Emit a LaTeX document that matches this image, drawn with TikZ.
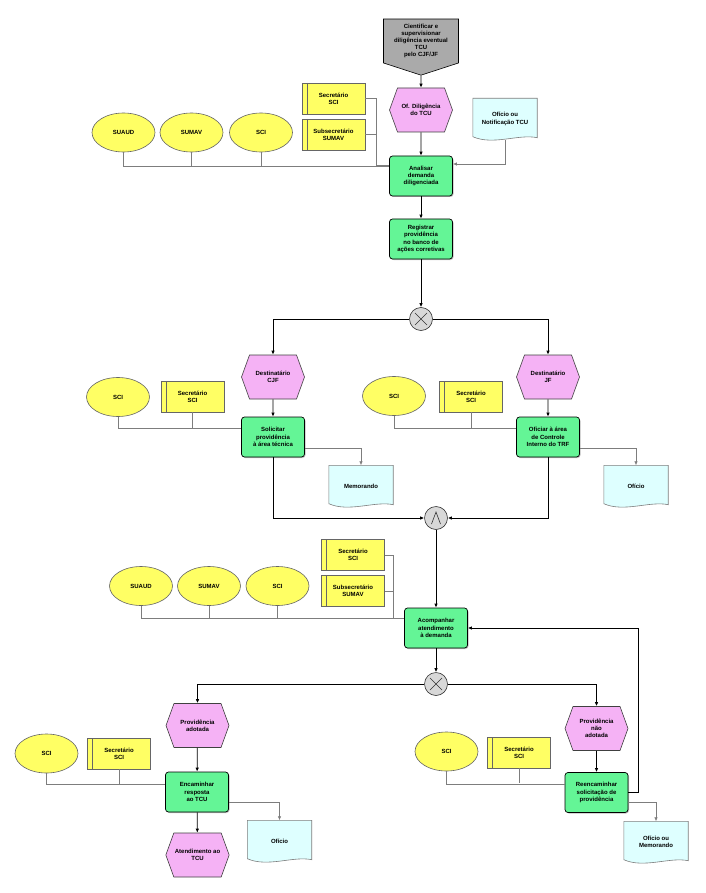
\documentclass[tikz,border=0pt]{standalone}
\usepackage{fontspec}
\setmainfont{Liberation Sans}
\usetikzlibrary{shapes.symbols,shapes.geometric,arrows.meta,calc,shadows}
\definecolor{funcg}{RGB}{100,245,150}
\definecolor{evpink}{RGB}{245,178,245}
\definecolor{orgy}{RGB}{255,255,100}
\definecolor{docc}{RGB}{222,255,255}
\definecolor{gatec}{RGB}{216,216,216}
\definecolor{startg}{RGB}{170,170,170}
\definecolor{lineg}{RGB}{125,125,125}
\newcommand\docnode[3]{%
  \path (#2) node[docbox] (#1) {};
  \filldraw[fill=docc,draw=lineg,line width=0.6pt] (#1.north west) -- (#1.north east) -- ($(#1.south east)+(0,-2)$)
     .. controls ($(#1.south)+(14,-6)$) and ($(#1.south)+(-12,6)$) .. ($(#1.south west)+(0,-3)$) -- cycle;
  \node[lbl] (#1t) at (#1) {#3};}
\begin{document}
\begin{tikzpicture}[x=1pt,y=-1pt,
  every node/.style={font=\fontsize{6}{7.2}\selectfont\bfseries, align=center, inner sep=1pt},
  lbl/.style={},
  func/.style={draw=black, fill=funcg, rounded corners=3pt, minimum width=63pt, minimum height=40pt, line width=0.7pt,
     drop shadow={shadow xshift=1pt, shadow yshift=-1pt, opacity=0.5}},
  evt/.style={signal, signal to=east and west, signal pointer angle=140, draw=black!75, fill=evpink,
     minimum width=63pt, minimum height=44pt, line width=0.6pt},
  startev/.style={signal, signal to=south, signal from=nowhere, signal pointer angle=144, draw=black, fill=startg,
     minimum width=75pt, minimum height=53pt, line width=0.6pt},
  org/.style={ellipse, draw=black!60, fill=orgy, minimum width=63pt, minimum height=39pt, line width=0.6pt},
  role/.style={rectangle, draw=black!60, fill=orgy, minimum width=63pt, minimum height=31pt, line width=0.6pt,
     path picture={\draw[black!60] ([xshift=5pt]path picture bounding box.north west) -- ([xshift=5pt]path picture bounding box.south west);}},
  docbox/.style={rectangle, minimum width=64pt, minimum height=41pt, draw=none},
  xorg/.style={circle, draw=black!80, fill=gatec, minimum size=23pt, inner sep=0pt, line width=0.6pt,
     path picture={\draw[line width=0.6pt] ($(path picture bounding box.center)+(-6,-6)$) -- ($(path picture bounding box.center)+(6,6)$)
        ($(path picture bounding box.center)+(-6,6)$) -- ($(path picture bounding box.center)+(6,-6)$);}},
  andg/.style={circle, draw=black!80, fill=gatec, minimum size=23pt, inner sep=0pt, line width=0.6pt,
     path picture={\draw[line width=0.6pt] ($(path picture bounding box.center)+(-4.5,6)$) -- ($(path picture bounding box.center)+(0,-6)$)
        -- ($(path picture bounding box.center)+(4.5,6)$);}},
  flow/.style={draw=black, line width=0.8pt, -{Latex[length=4pt,width=3.5pt]}},
  outl/.style={draw=lineg, line width=0.7pt, -{Latex[length=4pt,width=3.5pt]}},
  orgl/.style={draw=lineg, line width=0.7pt}
]
\useasboundingbox[fill=white] (0,0) rectangle (705,893);

% ---------- top block ----------
\node[startev] (start) at (421,41) {Cientificar e\\supervisionar\\diligência eventual\\TCU\\pelo CJF/JF};
\node[evt] (ev1) at (421,110) {Of. Diligência\\do TCU};
\node[func] (f1) at (421,176) {Analisar\\demanda\\diligenciada};
\docnode{doc1}{505,119}{Ofício ou\\Notificação TCU}
\node[role] (r1) at (333.5,98.5) {Secretário\\SCI};
\node[role] (r2) at (333.5,134.5) {Subsecretário\\SUMAV};
\node[org] (o1) at (123.5,132.5) {SUAUD};
\node[org] (o2) at (191.5,132.5) {SUMAV};
\node[org] (o3) at (261,132.5) {SCI};
\node[func] (f2) at (421,239) {Registrar\\providência\\no banco de\\ações corretivas};
\node[xorg] (x1) at (421,319) {};

\draw[flow] (start) -- (ev1);
\draw[flow] (ev1) -- (f1);
\draw[outl] (doc1.south) |- ([yshift=12pt]f1.east);
\draw[orgl] (r1.east) -- ++(11,0) |- ([yshift=11pt]f1.west);
\draw[orgl] (r2.east) -- ++(11,0);
\draw[orgl] (o1.south) |- ([yshift=10pt]f1.west);
\draw[orgl] (o2.south) -- ++(0,15);
\draw[orgl] (o3.south) -- ++(0,15);
\draw[flow] (f1) -- (f2);
\draw[flow] (f2) -- (x1);

% ---------- middle block ----------
\node[evt] (ev2) at (273,377) {Destinatário\\CJF};
\node[evt] (ev3) at (548,377) {Destinatário\\JF};
\node[func] (f3) at (273,437) {Solicitar\\providência\\à área técnica};
\node[func] (f4) at (548,437) {Oficiar à área\\de Controle\\Interno do TRF};
\node[org] (o4) at (118,397) {SCI};
\node[role] (r3) at (192.5,396.5) {Secretário\\SCI};
\node[org] (o5) at (394,396) {SCI};
\node[role] (r4) at (471,396.5) {Secretário\\SCI};
\docnode{doc2}{361,486}{Memorando}
\docnode{doc3}{636,486}{Ofício}
\node[andg] (a1) at (436,518) {};

\draw[flow] (x1.west) -| (ev2.north);
\draw[flow] (x1.east) -| (ev3.north);
\draw[flow] (ev2) -- (f3);
\draw[flow] (ev3) -- (f4);
\draw[orgl] (o4.south) |- ([yshift=9pt]f3.west);
\draw[orgl] (r3.south) -- ++(0,16);
\draw[orgl] (o5.south) |- ([yshift=9pt]f4.west);
\draw[orgl] (r4.south) -- ++(0,16);
\draw[outl] ([yshift=-11pt]f3.east) -| (doc2.north);
\draw[outl] ([yshift=-11pt]f4.east) -| (doc3.north);
\draw[flow] (f3.south) |- (a1.west);
\draw[flow] (f4.south) |- (a1.east);

% ---------- lower block ----------
\node[func] (f5) at (436,628) {Acompanhar\\atendimento\\à demanda};
\node[org] (o6) at (141,586) {SUAUD};
\node[org] (o7) at (209,586) {SUMAV};
\node[org] (o8) at (277.5,586) {SCI};
\node[role] (r5) at (353,555) {Secretário\\SCI};
\node[role] (r6) at (353,591) {Subsecretário\\SUMAV};
\node[xorg] (x2) at (436,684) {};

\draw[flow] (a1) -- (f5);
\draw[orgl] (o6.south) |- ([yshift=10pt]f5.west);
\draw[orgl] (o7.south) -- ++(0,13);
\draw[orgl] (o8.south) -- ++(0,13);
\draw[orgl] (r5.east) -- ++(9,0) |- ([yshift=10pt]f5.west);
\draw[orgl] (r6.east) -- ++(9,0);
\draw[flow] (f5) -- (x2);

% ---------- bottom block ----------
\node[evt] (ev4) at (197.5,725.5) {Providência\\adotada};
\node[evt] (ev5) at (596.5,728.5) {Providência\\não\\adotada};
\node[func] (f6) at (197,792) {Encaminhar\\resposta\\ao TCU};
\node[func] (f7) at (596.5,792.5) {Reencaminhar\\solicitação de\\providência};
\node[evt] (ev6) at (197.5,855) {Atendimento ao\\TCU};
\node[org] (o9) at (46.5,753.5) {SCI};
\node[role] (r7) at (119,753.5) {Secretário\\SCI};
\node[org] (o10) at (446.5,751.5) {SCI};
\node[role] (r8) at (519,752.5) {Secretário\\SCI};
\docnode{doc4}{279.5,841}{Ofício}
\docnode{doc5}{656,842}{Ofício ou\\Memorando}

\draw[flow] (x2.west) -| (ev4.north);
\draw[flow] (x2.east) -| (ev5.north);
\draw[flow] (ev4) -- (f6);
\draw[flow] (ev5) -- (f7);
\draw[flow] (f6) -- (ev6);
\draw[orgl] (o9.south) |- ([yshift=8pt]f6.west);
\draw[orgl] (r7.south) -- ++(0,14.5);
\draw[orgl] (o10.south) |- ([yshift=8pt]f7.west);
\draw[orgl] (r8.south) -- ++(0,15);
\draw[outl] ([yshift=-10pt]f6.east) -| (doc4.north);
\draw[outl] ([yshift=-10pt]f7.east) -| (doc5.north);
\draw[flow] (f7.east) -- ++(10,0) |- (f5.east);
\end{tikzpicture}
\end{document}
